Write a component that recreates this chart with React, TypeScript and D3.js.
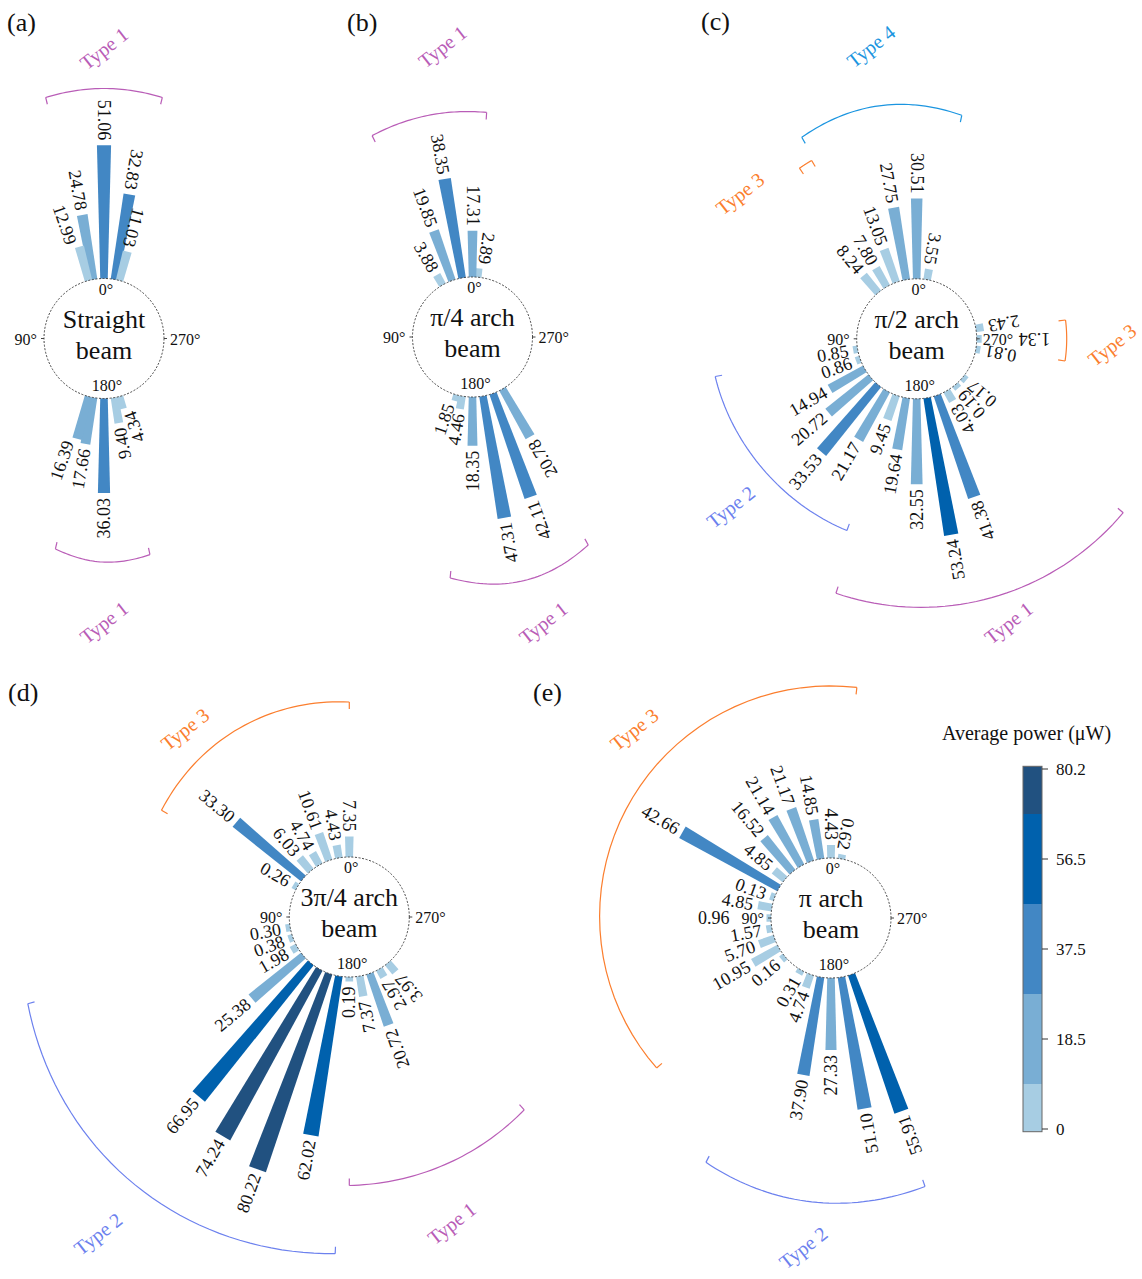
import React from "react";
import * as d3 from "d3";

const W = 1142;
const H = 1279;
const FONT = "'Liberation Serif','Times New Roman',Times,serif";

// ---------------- data ----------------
const panelLetters = ["(a)", "(b)", "(c)", "(d)", "(e)"];
const panelTitles = [
  ["Straight", "beam"],
  ["π/4 arch", "beam"],
  ["π/2 arch", "beam"],
  ["3π/4 arch", "beam"],
  ["π arch", "beam"],
];

// bar direction in degrees (0° top, 90° left, 180° bottom, 270° right) and average power (μW)
const anglesA = [0, 350, 345, 10, 15, 180, 170, 165, 190, 195];
const valuesA = [51.06, 32.83, 11.03, 24.78, 12.99, 36.03, 17.66, 16.39, 9.4, 4.34];

const anglesB = [355, 0, 10, 20, 30, 165, 170, 180, 190, 200, 210];
const valuesB = [2.89, 17.31, 38.35, 19.85, 3.88, 1.85, 4.46, 18.35, 47.31, 42.11, 20.78];

const anglesC = [350, 0, 10, 20, 30, 40, 100, 110, 120, 130, 140, 150, 160, 170, 180, 190, 200, 210, 220, 230, 260, 270, 280];
const valuesC = [3.55, 30.51, 27.75, 13.05, 7.8, 8.24, 0.85, 0.86, 14.94, 20.72, 33.53, 21.17, 9.45, 19.64, 32.55, 53.24, 41.38, 4.03, 0.19, 0.17, 0.81, 1.34, 2.43];

const anglesD = [0, 10, 20, 30, 40, 50, 60, 100, 110, 120, 130, 140, 150, 160, 170, 180, 190, 200, 210, 220];
const valuesD = [7.35, 4.43, 10.61, 4.74, 6.03, 33.3, 0.26, 0.3, 0.38, 1.98, 25.38, 66.95, 74.24, 80.22, 62.02, 0.19, 7.37, 20.72, 2.97, 3.97];

const anglesE = [350, 0, 10, 20, 30, 40, 50, 60, 70, 80, 90, 100, 110, 120, 130, 150, 160, 170, 180, 190, 200];
const valuesE = [0.62, 4.43, 14.85, 21.17, 21.14, 16.52, 4.85, 42.66, 0.13, 4.85, 0.96, 1.57, 5.7, 10.95, 0.16, 0.31, 4.74, 37.9, 27.33, 51.1, 55.91];

const panelAngles = [anglesA, anglesB, anglesC, anglesD, anglesE];
const panelValues = [valuesA, valuesB, valuesC, valuesD, valuesE];

const degreeLabels = ["0°", "90°", "180°", "270°"];

// colour classes
const colorThresholds = [14, 32.7, 52, 70];
const classColors = ["#a7cde3", "#79aed4", "#4287c4", "#0061ad", "#215180"];
const colorbarTicks = ["0", "18.5", "37.5", "56.5", "80.2"];
const colorbarTitle = "Average power (μW)";

// type brackets: panel index, label, angular span (deg)
const bracketPanel = [0, 0, 1, 1, 2, 2, 2, 2, 2, 3, 3, 3, 4, 4];
const bracketType = [1, 1, 1, 1, 4, 3, 3, 2, 1, 3, 2, 1, 3, 2];
const bracketFrom = [-13.6, 167, -3.6, 174.7, -11.4, 30.5, 261.5, 100.6, 162.4, 0, 105.1, 180, -6.4, 152.9];
const bracketTo = [13.6, 192, 26.5, 209.1, 29.7, 34.5, 277.2, 160, 229.9, 60.4, 177.6, 222.2, 130.7, 199.3];

// ---------------- layout / style ----------------
const R = 60;
const PANEL_POS = [
  { cx: 104, cy: 338.5, lx: 7, ly: 31 },
  { cx: 472.5, cy: 337, lx: 347, ly: 31 },
  { cx: 916.7, cy: 338.8, lx: 701, ly: 30 },
  { cx: 349.3, cy: 917, lx: 8, ly: 701 },
  { cx: 831, cy: 918, lx: 533, ly: 701 },
];
// [r start, r end, bulge, label angle, label radius]
const BRACKET_GEOM = [
  [248, 248, 2, 0, 290],
  [216, 221, 5, 180, 284],
  [225, 225, 1, 5.9, 292],
  [242, 238, 9, 193.9, 294.6],
  [228, 232, 6, 8.9, 296],
  [207, 207, 0, 50.6, 228.7],
  [150, 150, 0, 268.2, 195.5],
  [205, 204, -3, 132.1, 250.7],
  [267, 270, 1, 197.9, 298.6],
  [215, 216, 3, 41.2, 249.6],
  [333, 337, 8, 141.6, 404.4],
  [268.5, 260.4, 1, 198.5, 323.1],
  [232, 230, 1, 46.2, 272.6],
  [274.5, 284.5, 5, 175.2, 330.8],
];
const TYPE_COLORS: Record<number, string> = {
  1: "#b95db7",
  2: "#6c81ee",
  3: "#fb7e2e",
  4: "#1b95e0",
};

const color = d3.scaleThreshold<number, string>().domain(colorThresholds).range(classColors);
const radius = d3.scaleLinear().domain([0, 80.2]).range([R + 1.5, R + 1.5 + 80.2 * 2.58]);

const rad = (d: number) => (d * Math.PI) / 180;
const pt = (cx: number, cy: number, deg: number, r: number): [number, number] => [
  cx - r * Math.sin(rad(deg)),
  cy - r * Math.cos(rad(deg)),
];

const line = d3.line<[number, number]>();

function barPath(cx: number, cy: number, deg: number, rIn: number, rOut: number) {
  const t = rad(deg);
  const ux = -Math.sin(t), uy = -Math.cos(t);
  const nx = Math.cos(t), ny = -Math.sin(t);
  const hw = (r: number) => (4.5 + 0.05 * r) / 2;
  const pts: [number, number][] = [
    [cx + ux * rIn + nx * hw(rIn), cy + uy * rIn + ny * hw(rIn)],
    [cx + ux * rOut + nx * hw(rOut), cy + uy * rOut + ny * hw(rOut)],
    [cx + ux * rOut - nx * hw(rOut), cy + uy * rOut - ny * hw(rOut)],
    [cx + ux * rIn - nx * hw(rIn), cy + uy * rIn - ny * hw(rIn)],
  ];
  return line(pts) + "Z";
}

const angDiff = (a: number, b: number) => ((a - b + 540) % 360) - 180;

function Panel({ idx }: { idx: number }) {
  const { cx, cy, lx, ly } = PANEL_POS[idx];
  const angles = panelAngles[idx];
  const values = panelValues[idx];
  const rOuts = values.map((v) => Math.max(radius(v), R + 4.5));
  const bars = angles.map((a, i) => {
    const v = values[i];
    const rOut = rOuts[i];
    // push a shorter bar's label aside when a close neighbour's label would collide
    let nudge = 0;
    angles.forEach((b, j) => {
      if (j === i) return;
      const d = angDiff(a, b);
      if (Math.abs(d) <= 6 && rOuts[j] > rOut && rOuts[j] - rOut < 45) nudge += Math.sign(d) * 4;
    });
    const la = a + nudge;
    const nearSide = Math.abs(a - 90) < 5 || Math.abs(a - 270) < 5;
    const [tx, ty] = pt(cx, cy, la, rOut + 5 + (nearSide ? 32 : 0));
    return { a, v, rOut, tx, ty, rot: 90 - la };
  });
  const brackets = bracketPanel
    .map((p, i) => ({ p, i }))
    .filter((d) => d.p === idx)
    .map(({ i }) => {
      const [r0, r1, bulge, la, lr] = BRACKET_GEOM[i];
      const a0 = bracketFrom[i], a1 = bracketTo[i];
      const pts: [number, number][] = d3.range(0, 41).map((k) => {
        const t = k / 40;
        const r = r0 + (r1 - r0) * t + bulge * Math.sin(Math.PI * t);
        return pt(cx, cy, a0 + (a1 - a0) * t, r);
      });
      const tick0 = [pt(cx, cy, a0, r0), pt(cx, cy, a0, r0 - 7)] as [number, number][];
      const tick1 = [pt(cx, cy, a1, r1), pt(cx, cy, a1, r1 - 7)] as [number, number][];
      const [lxp, lyp] = pt(cx, cy, la, lr);
      return { i, pts, tick0, tick1, lxp, lyp, c: TYPE_COLORS[bracketType[i]], label: `Type ${bracketType[i]}` };
    });

  return (
    <g>
      <text x={lx} y={ly} fontSize={26} fontFamily={FONT} fill="#111">
        {panelLetters[idx]}
      </text>
      {brackets.map((b) => (
        <g key={b.i}>
          <path d={line(b.pts) || ""} fill="none" stroke={b.c} strokeWidth={1.2} />
          <path d={line(b.tick0) || ""} fill="none" stroke={b.c} strokeWidth={1.2} />
          <path d={line(b.tick1) || ""} fill="none" stroke={b.c} strokeWidth={1.2} />
          <text
            transform={`translate(${b.lxp},${b.lyp}) rotate(-38)`}
            textAnchor="middle"
            dominantBaseline="central"
            fontSize={20}
            fontFamily={FONT}
            fill={b.c}
          >
            {b.label}
          </text>
        </g>
      ))}
      {bars.map((b, i) => (
        <path key={i} d={barPath(cx, cy, b.a, R - 6, b.rOut)} fill={color(b.v)} />
      ))}
      <circle cx={cx} cy={cy} r={R} fill="#fff" stroke="#444" strokeWidth={1} strokeDasharray="2 1.6" />
      {[90, 270].map((a) => {
        const p = [pt(cx, cy, a, R), pt(cx, cy, a, R + 3)] as [number, number][];
        return <path key={a} d={line(p) || ""} stroke="#444" strokeWidth={1} />;
      })}
      {bars.map((b, i) => (
        <text
          key={i}
          transform={`translate(${b.tx},${b.ty}) rotate(${b.rot})`}
          textAnchor="end"
          dominantBaseline="central"
          fontSize={18}
          fontFamily={FONT}
          fill="#111"
        >
          {b.v.toFixed(2)}
        </text>
      ))}
      <text x={cx + 2} y={cy - 44} textAnchor="middle" fontSize={16} fontFamily={FONT} fill="#111">
        {degreeLabels[0]}
      </text>
      <text x={cx - 67} y={cy + 6} textAnchor="end" fontSize={16} fontFamily={FONT} fill="#111">
        {degreeLabels[1]}
      </text>
      <text x={cx + 3} y={cy + 52} textAnchor="middle" fontSize={16} fontFamily={FONT} fill="#111">
        {degreeLabels[2]}
      </text>
      <text x={cx + 66} y={cy + 6} textAnchor="start" fontSize={16} fontFamily={FONT} fill="#111">
        {degreeLabels[3]}
      </text>
      <text x={cx} y={cy - 11} textAnchor="middle" fontSize={26} fontFamily={FONT} fill="#111">
        {panelTitles[idx][0]}
      </text>
      <text x={cx} y={cy + 20} textAnchor="middle" fontSize={26} fontFamily={FONT} fill="#111">
        {panelTitles[idx][1]}
      </text>
    </g>
  );
}

function Colorbar() {
  const x0 = 1023;
  const w = 19;
  const y = d3.scaleLinear().domain([0, colorbarTicks.length - 1]).range([1129, 769]);
  const lo = -0.03, hi = colorbarTicks.length - 1 + 0.03;
  return (
    <g>
      <text x={1026.5} y={740} textAnchor="middle" fontSize={20} fontFamily={FONT} fill="#111">
        {colorbarTitle}
      </text>
      {classColors.map((c, i) => {
        const top = y(Math.min(i + 0.5, hi));
        const bot = y(Math.max(i - 0.5, lo));
        return <rect key={i} x={x0} y={top} width={w} height={bot - top} fill={c} />;
      })}
      <rect x={x0} y={y(hi)} width={w} height={y(lo) - y(hi)} fill="none" stroke="#666" strokeWidth={1} />
      {colorbarTicks.map((t, i) => (
        <g key={t}>
          <line x1={x0 + w} x2={x0 + w + 6} y1={y(i)} y2={y(i)} stroke="#333" strokeWidth={1} />
          <text x={1056} y={y(i)} dominantBaseline="central" fontSize={17} fontFamily={FONT} fill="#111">
            {t}
          </text>
        </g>
      ))}
    </g>
  );
}

export default function App() {
  return (
    <svg
      width={W}
      height={H}
      viewBox={`0 0 ${W} ${H}`}
      style={{ position: "absolute", left: 0, top: 0, background: "#fff" }}
    >
      <rect width={W} height={H} fill="#fff" />
      {[0, 1, 2, 3, 4].map((i) => (
        <Panel key={i} idx={i} />
      ))}
      <Colorbar />
    </svg>
  );
}
